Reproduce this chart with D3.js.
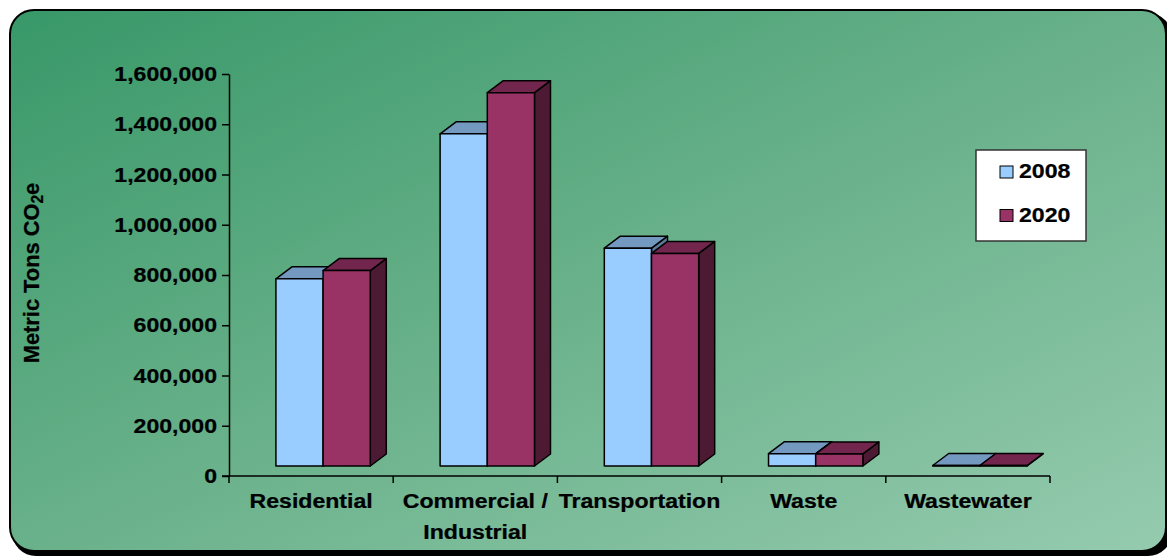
<!DOCTYPE html>
<html>
<head>
<meta charset="utf-8">
<script src="https://cdn.jsdelivr.net/npm/d3@7"></script>
<style>
  html, body { margin: 0; padding: 0; background: #fff; }
  svg { display: block; }
  text { font-family: "Liberation Sans", Arial, sans-serif; font-weight: bold; fill: #000; stroke: #000; stroke-width: 0.25px; }
</style>
</head>
<body>
<svg id="chart" width="1167" height="559"></svg>
<script>
// Chart data
const categories = ["Residential", "Commercial /\nIndustrial", "Transportation", "Waste", "Wastewater"];
const series = ["2008", "2020"];
const values2008 = [745000, 1322000, 867000, 49000, 2000];
const values2020 = [778000, 1486000, 846000, 48000, 2000];
const yTicks = [0, 200000, 400000, 600000, 800000, 1000000, 1200000, 1400000, 1600000];

// colours per series: front, top, side
const colors = {
  "2008": { front: "#99ccff", top: "#7399c0", side: "#5c7a99" },
  "2020": { front: "#993366", top: "#73264d", side: "#4d1a33" }
};

const conf = {
  left: 229, right: 1050, top: 74, bottom: 476,
  // offset of the bar plane from the axis plane
  ox: 12, oy: -10,
  // depth of each bar
  dx: 16, dy: -12,
  gapWidth: 1.48,
  font: 21, stretch: 1.1
};

const svg = d3.select("#chart");

// Background frame with gradient and shadow
const defs = svg.append("defs");
const grad = defs.append("linearGradient")
  .attr("id", "bg").attr("x1", 0).attr("y1", 0).attr("x2", 1).attr("y2", 1);
grad.append("stop").attr("offset", 0).attr("stop-color", "#389868");
grad.append("stop").attr("offset", 0.5).attr("stop-color", "#69b18a");
grad.append("stop").attr("offset", 1).attr("stop-color", "#95cbaf");

svg.append("rect")
  .attr("x", 12).attr("y", 13).attr("width", 1160).attr("height", 543)
  .attr("rx", 24).attr("fill", "#000");
svg.append("rect")
  .attr("x", 10).attr("y", 10).attr("width", 1156).attr("height", 541)
  .attr("rx", 24).attr("fill", "url(#bg)")
  .attr("stroke", "#000").attr("stroke-width", 2);

const y = d3.scaleLinear()
  .domain([0, 1600000])
  .range([conf.bottom, conf.top]);

const x = d3.scaleBand()
  .domain(categories)
  .range([conf.left, conf.right]);

const barW = x.bandwidth() / (2 + conf.gapWidth);
const xs = d3.scaleBand()
  .domain(series)
  .range([-barW, barW]);

// Y axis
const yAxis = svg.append("g")
  .attr("transform", `translate(${conf.left},0)`)
  .call(d3.axisLeft(y).tickValues(yTicks).tickSize(7).tickSizeOuter(0)
    .tickFormat(d3.format(",")));
yAxis.select(".domain").attr("stroke", "#000").attr("stroke-width", 1.5);
yAxis.selectAll(".tick line").attr("stroke", "#000").attr("stroke-width", 1.5);
yAxis.selectAll(".tick text")
  .attr("font-size", conf.font)
  .attr("font-family", "Liberation Sans, Arial, sans-serif")
  .attr("font-weight", "bold")
  .attr("x", -12 / conf.stretch)
  .attr("transform", `scale(${conf.stretch},1)`);

// X axis (ticks at category boundaries)
const xAxis = svg.append("g");
xAxis.append("line")
  .attr("x1", conf.left - 7).attr("x2", conf.right)
  .attr("y1", conf.bottom).attr("y2", conf.bottom)
  .attr("stroke", "#000").attr("stroke-width", 1.5);
const bounds = categories.map(c => x(c)).concat([x.range()[1]]);
xAxis.selectAll(".xtick")
  .data(bounds)
  .enter().append("line")
  .attr("class", "xtick")
  .attr("x1", d => d).attr("x2", d => d)
  .attr("y1", conf.bottom).attr("y2", conf.bottom + 7)
  .attr("stroke", "#000").attr("stroke-width", 1.5);

const xLabels = xAxis.selectAll(".xlabel")
  .data(categories)
  .enter().append("text")
  .attr("class", "xlabel")
  .attr("font-size", conf.font)
  .attr("text-anchor", "middle")
  .attr("transform", d => `translate(${x(d) + x.bandwidth() / 2},508) scale(${conf.stretch},1)`);
xLabels.selectAll("tspan")
  .data(d => d.split("\n"))
  .enter().append("tspan")
  .attr("x", 0)
  .attr("dy", (d, i) => i === 0 ? 0 : 31)
  .text(d => d);

// Y axis title
const yTitle = svg.append("text")
  .attr("font-size", 21)
  .attr("text-anchor", "middle")
  .attr("transform", "translate(39,273) rotate(-90) scale(1.04,1.08)");
yTitle.append("tspan").text("Metric Tons CO");
yTitle.append("tspan").attr("font-size", 15).attr("dy", 4).text("2");
yTitle.append("tspan").attr("dy", -4).text("e");

// 3D bars
const barData = [];
series.forEach((s, si) => {
  const vals = si === 0 ? values2008 : values2020;
  categories.forEach((c, ci) => barData.push({ cat: c, series: s, value: vals[ci], ci }));
});
// draw left to right so nearer faces overlap
barData.sort((a, b) => a.ci - b.ci || series.indexOf(a.series) - series.indexOf(b.series));

const bars = svg.append("g").attr("class", "bars");
const { ox, oy, dx, dy } = conf;

bars.selectAll("g.bar")
  .data(barData)
  .enter().append("g")
  .attr("class", "bar")
  .each(function(d) {
    const g = d3.select(this);
    const x0 = x(d.cat) + x.bandwidth() / 2 + xs(d.series) + ox;
    const x1 = x0 + barW;
    const yt = y(d.value) + oy;
    const yb = y(0) + oy;
    const col = colors[d.series];
    const pts = p => p.map(q => q.join(",")).join(" ");
    g.append("polygon")
      .attr("points", pts([[x1, yb], [x1 + dx, yb + dy], [x1 + dx, yt + dy], [x1, yt]]))
      .attr("fill", col.side);
    g.append("polygon")
      .attr("points", pts([[x0, yt], [x0 + dx, yt + dy], [x1 + dx, yt + dy], [x1, yt]]))
      .attr("fill", col.top);
    g.append("rect")
      .attr("x", x0).attr("y", yt)
      .attr("width", barW).attr("height", yb - yt)
      .attr("fill", col.front);
    g.selectAll("polygon, rect")
      .attr("stroke", "#000").attr("stroke-width", 1.5)
      .attr("stroke-linejoin", "round");
  });

// Legend
const legend = svg.append("g");
legend.append("rect")
  .attr("x", 976).attr("y", 150).attr("width", 110).attr("height", 91)
  .attr("fill", "#fff").attr("stroke", "#333").attr("stroke-width", 1.5);
const items = legend.selectAll(".item")
  .data(series)
  .enter().append("g")
  .attr("class", "item")
  .attr("transform", (d, i) => `translate(1000,${166 + i * 43.5})`);
items.append("rect")
  .attr("width", 13).attr("height", 12)
  .attr("fill", d => colors[d].front)
  .attr("stroke", "#000").attr("stroke-width", 1);
items.append("text")
  .attr("font-size", conf.font)
  .attr("transform", `translate(19,12) scale(${conf.stretch},1)`)
  .text(d => d);
</script>
</body>
</html>
